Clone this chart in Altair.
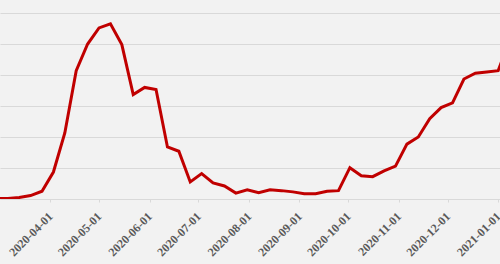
import altair as alt
import pandas as pd

dates = [
    "2020-02-28", "2020-03-06", "2020-03-13", "2020-03-20", "2020-03-27",
    "2020-04-03", "2020-04-10", "2020-04-17", "2020-04-24", "2020-05-01",
    "2020-05-08", "2020-05-15", "2020-05-22", "2020-05-29", "2020-06-05",
    "2020-06-12", "2020-06-19", "2020-06-26", "2020-07-03", "2020-07-10",
    "2020-07-17", "2020-07-24", "2020-07-31", "2020-08-07", "2020-08-14",
    "2020-08-21", "2020-08-28", "2020-09-04", "2020-09-11", "2020-09-18",
    "2020-09-25", "2020-10-02", "2020-10-09", "2020-10-16", "2020-10-23",
    "2020-10-30", "2020-11-06", "2020-11-13", "2020-11-20", "2020-11-27",
    "2020-12-04", "2020-12-11", "2020-12-18", "2020-12-25", "2021-01-01",
    "2021-01-08",
]
values = [
    0.01, 0.02, 0.05, 0.11, 0.25,
    0.87, 2.13, 4.14, 5.00, 5.52,
    5.65, 4.98, 3.37, 3.60, 3.53,
    1.68, 1.54, 0.55, 0.82, 0.52,
    0.42, 0.19, 0.30, 0.20, 0.30,
    0.27, 0.23, 0.17, 0.17, 0.25,
    0.27, 1.01, 0.75, 0.72, 0.91,
    1.06, 1.77, 2.00, 2.59, 2.95,
    3.10, 3.87, 4.06, 4.10, 4.14,
    5.10,
]
tick_months = [(2020, m) for m in range(3, 13)] + [(2021, 1)]
grid_values = [0, 1, 2, 3, 4, 5, 6]

df = pd.DataFrame({"date": dates, "value": values})

x_axis = alt.Axis(
    values=[alt.DateTime(year=y, month=m, date=1, utc=True) for y, m in tick_months],
    format="%Y-%m-%d",
    labelAngle=-45,
    labelAlign="right",
    labelBaseline="middle",
    labelPadding=12,
    labelFont="Liberation Serif",
    labelFontWeight="bold",
    labelFontSize=12,
    labelColor="#595959",
    labelOverlap=False,
    grid=False,
    domainColor="#d9d9d9",
    tickColor="#d9d9d9",
    tickSize=3,
    title=None,
)
y_axis = alt.Axis(
    values=grid_values,
    labels=False,
    ticks=False,
    domain=False,
    grid=True,
    gridColor="#d9d9d9",
    gridWidth=1,
    title=None,
)

chart = (
    alt.Chart(df)
    .mark_line(color="#c00000", strokeWidth=3, clip=True)
    .encode(
        x=alt.X(
            "date:T",
            axis=x_axis,
            scale=alt.Scale(
                type="utc",
                domain=[
                    alt.DateTime(year=2020, month=3, date=1, hours=5, minutes=5, utc=True),
                    alt.DateTime(year=2021, month=1, date=2, hours=3, minutes=36, utc=True),
                ],
            ),
        ),
        y=alt.Y("value:Q", axis=y_axis, scale=alt.Scale(domain=[0, 6.42], nice=False, zero=True)),
    )
    .properties(
        width=500,
        height=199,
        background="#f2f2f2",
        autosize=alt.AutoSizeParams(type="none"),
        padding={"left": 0, "top": 0, "right": 0, "bottom": 65},
    )
    .configure_view(stroke=None)
)

chart.save("out.html", embed_options={"renderer": "svg", "actions": False})
